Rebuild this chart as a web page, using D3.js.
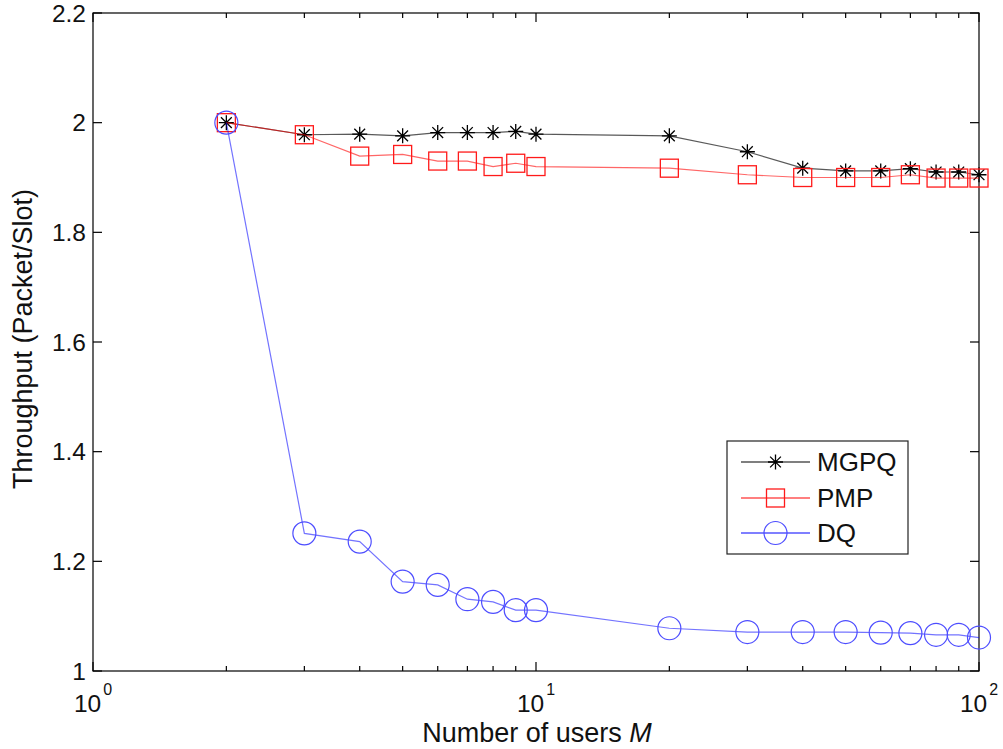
<!DOCTYPE html>
<html>
<head>
<meta charset="utf-8">
<script src="https://cdn.jsdelivr.net/npm/d3@7"></script>
<style>
  html, body { margin: 0; padding: 0; background: #fff; }
  svg { display: block; font-family: "Liberation Sans", Arial, Helvetica, sans-serif; }
</style>
</head>
<body>
<svg id="chart" width="1003" height="749"></svg>
<script>
// ---- data ----
const users = [2, 3, 4, 5, 6, 7, 8, 9, 10, 20, 30, 40, 50, 60, 70, 80, 90, 100];
const mgpq = [2.000, 1.978, 1.979, 1.976, 1.982, 1.982, 1.982, 1.984, 1.979, 1.976, 1.947, 1.917, 1.912, 1.912, 1.916, 1.910, 1.910, 1.905];
const pmp  = [2.000, 1.978, 1.939, 1.942, 1.930, 1.930, 1.920, 1.926, 1.920, 1.917, 1.905, 1.900, 1.900, 1.900, 1.905, 1.899, 1.899, 1.899];
const dq   = [2.000, 1.251, 1.236, 1.163, 1.157, 1.131, 1.126, 1.111, 1.111, 1.078, 1.071, 1.071, 1.071, 1.070, 1.069, 1.066, 1.066, 1.061];
const seriesNames = ["MGPQ", "PMP", "DQ"];
const yTicks = [1, 1.2, 1.4, 1.6, 1.8, 2, 2.2];
const yTickLabels = ["1", "1.2", "1.4", "1.6", "1.8", "2", "2.2"];
const xMajorTicks = [1, 10, 100];
const xMajorExp = ["0", "1", "2"];
const xMinorTicks = [2, 3, 4, 5, 6, 7, 8, 9, 20, 30, 40, 50, 60, 70, 80, 90];

// ---- layout ----
const L = 93, R = 979, T = 13, B = 671;
const svg = d3.select("#chart");
const x = d3.scaleLog().domain([1, 100]).range([L, R]);
const y = d3.scaleLinear().domain([1, 2.2]).range([B, T]);

// frame
svg.append("rect").attr("x", L).attr("y", T).attr("width", R - L).attr("height", B - T)
  .attr("fill", "none").attr("stroke", "#000").attr("stroke-width", 1.2);

// ticks
const tk = svg.append("g").attr("stroke", "#000").attr("stroke-width", 1.2);
xMajorTicks.forEach(v => {
  tk.append("line").attr("x1", x(v)).attr("x2", x(v)).attr("y1", B).attr("y2", B - 9);
  tk.append("line").attr("x1", x(v)).attr("x2", x(v)).attr("y1", T).attr("y2", T + 9);
});
xMinorTicks.forEach(v => {
  tk.append("line").attr("x1", x(v)).attr("x2", x(v)).attr("y1", B).attr("y2", B - 5);
  tk.append("line").attr("x1", x(v)).attr("x2", x(v)).attr("y1", T).attr("y2", T + 5);
});
yTicks.forEach(v => {
  tk.append("line").attr("x1", L).attr("x2", L + 9).attr("y1", y(v)).attr("y2", y(v));
  tk.append("line").attr("x1", R).attr("x2", R - 9).attr("y1", y(v)).attr("y2", y(v));
});

// tick labels
yTicks.forEach((v, i) => {
  svg.append("text").attr("x", L - 7).attr("y", y(v) + 8.5)
    .attr("text-anchor", "end").attr("font-size", 24.5).attr("fill", "#111")
    .text(yTickLabels[i]);
});
xMajorTicks.forEach((v, i) => {
  const t = svg.append("text").attr("x", x(v)).attr("y", 712)
    .attr("text-anchor", "middle").attr("font-size", 24.5).attr("fill", "#111");
  t.append("tspan").text("10");
  t.append("tspan").attr("dy", -17).attr("dx", 2).attr("font-size", 16).text(xMajorExp[i]);
});

// axis labels
const xl = svg.append("text").attr("x", (L + R) / 2 + 1).attr("y", 742)
  .attr("text-anchor", "middle").attr("font-size", 27).attr("fill", "#111");
xl.append("tspan").text("Number of users ");
xl.append("tspan").attr("font-style", "italic").text("M");
svg.append("text").attr("transform", `translate(32,${(T + B) / 2 - 3}) rotate(-90)`)
  .attr("text-anchor", "middle").attr("font-size", 27).attr("fill", "#111")
  .text("Throughput (Packet/Slot)");

// marker painters
function asterisk(g, cx, cy, s) {
  const p = `M${cx - s},${cy}L${cx + s},${cy}M${cx},${cy - s}L${cx},${cy + s}` +
    `M${cx - s * 0.72},${cy - s * 0.72}L${cx + s * 0.72},${cy + s * 0.72}` +
    `M${cx - s * 0.72},${cy + s * 0.72}L${cx + s * 0.72},${cy - s * 0.72}`;
  g.append("path").attr("d", p).attr("stroke", "#000").attr("stroke-width", 1.3).attr("fill", "none");
}
function square(g, cx, cy, s) {
  g.append("rect").attr("x", cx - s).attr("y", cy - s).attr("width", 2 * s).attr("height", 2 * s)
    .attr("fill", "none").attr("stroke", "#ff1a1a").attr("stroke-width", 1.3);
}
function circle(g, cx, cy, r) {
  g.append("circle").attr("cx", cx).attr("cy", cy).attr("r", r)
    .attr("fill", "none").attr("stroke", "#4d4dff").attr("stroke-width", 1.2);
}

const series = [
  { name: seriesNames[0], vals: mgpq, color: "#000", op: 0.65, mark: (g, cx, cy) => asterisk(g, cx, cy, 7.5) },
  { name: seriesNames[1], vals: pmp, color: "#ff0000", op: 0.6, mark: (g, cx, cy) => square(g, cx, cy, 9) },
  { name: seriesNames[2], vals: dq, color: "#0000ff", op: 0.55, mark: (g, cx, cy) => circle(g, cx, cy, 11.5) }
];

const line = d3.line().x(d => x(d[0])).y(d => y(d[1]));
series.forEach(s => {
  const g = svg.append("g");
  const pts = users.map((u, i) => [u, s.vals[i]]);
  g.append("path").attr("d", line(pts)).attr("fill", "none")
    .attr("stroke", s.color).attr("stroke-opacity", s.op).attr("stroke-width", 1.2);
  pts.forEach(p => s.mark(g, x(p[0]), y(p[1])));
});

// legend
const lg = svg.append("g");
lg.append("rect").attr("x", 727).attr("y", 441).attr("width", 181).attr("height", 113)
  .attr("fill", "#fff").attr("stroke", "#222").attr("stroke-width", 1.2);
const rows = [462, 498, 533];
series.forEach((s, i) => {
  lg.append("line").attr("x1", 741).attr("x2", 810).attr("y1", rows[i]).attr("y2", rows[i])
    .attr("stroke", s.color).attr("stroke-width", 1.2);
  s.mark(lg, 775.5, rows[i]);
  lg.append("text").attr("x", 817).attr("y", rows[i] + 9).attr("font-size", 26).attr("fill", "#111").text(s.name);
});
</script>
</body>
</html>
